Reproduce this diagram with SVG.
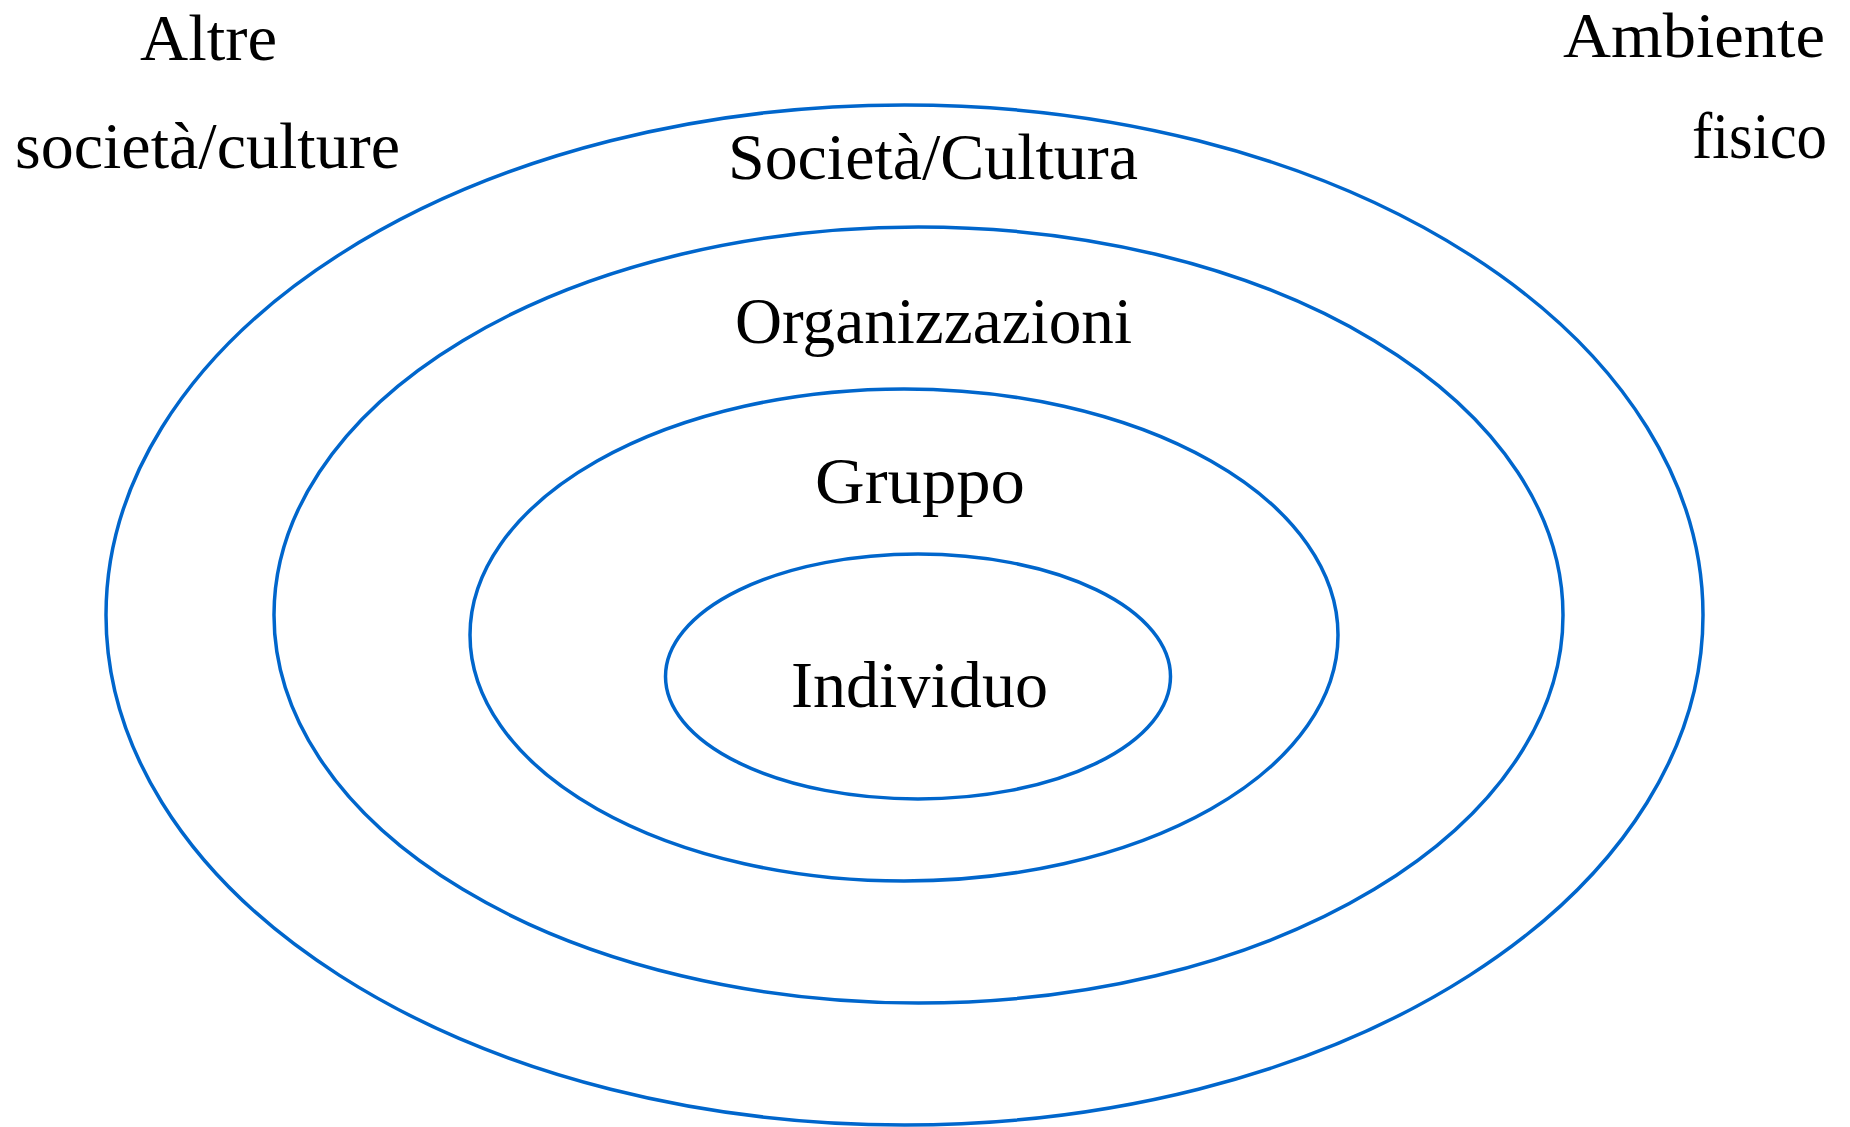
<svg xmlns="http://www.w3.org/2000/svg" width="1850" height="1127" viewBox="0 0 1850 1127">
<style>
.ring{fill:none;stroke:#0066CC;stroke-width:3.5}
.lbl{font-family:"Liberation Serif","Times New Roman",serif;font-size:66px;fill:#000;text-anchor:middle}
</style>
<rect width="1850" height="1127" fill="#fff"/>
<g id="societa">
<ellipse class="ring" cx="904.5" cy="615" rx="798.5" ry="510"/>
<text class="lbl" x="933" y="179" textLength="410" lengthAdjust="spacingAndGlyphs">Società/Cultura</text>
</g>
<g id="organizzazioni">
<ellipse class="ring" cx="918.5" cy="615" rx="644.5" ry="388"/>
<text class="lbl" x="933.5" y="343" textLength="397" lengthAdjust="spacingAndGlyphs">Organizzazioni</text>
</g>
<g id="gruppo">
<ellipse class="ring" cx="904" cy="635" rx="434" ry="246"/>
<text class="lbl" x="920" y="503" textLength="210" lengthAdjust="spacingAndGlyphs">Gruppo</text>
</g>
<g id="individuo">
<ellipse class="ring" cx="918" cy="676.5" rx="252.5" ry="122.5"/>
<text class="lbl" x="919.5" y="707" textLength="257" lengthAdjust="spacingAndGlyphs">Individuo</text>
</g>
<g id="altre">
<text class="lbl" x="208.5" y="60" textLength="137" lengthAdjust="spacingAndGlyphs">Altre</text>
<text class="lbl" x="207.5" y="168" textLength="385" lengthAdjust="spacingAndGlyphs">società/culture</text>
</g>
<g id="ambiente">
<text class="lbl" x="1694" y="57" font-size="63" style="font-size:63px" textLength="262" lengthAdjust="spacingAndGlyphs">Ambiente</text>
<text class="lbl" x="1759.5" y="158" textLength="135" lengthAdjust="spacingAndGlyphs">fisico</text>
</g>
<g id="connectors"></g>
</svg>
